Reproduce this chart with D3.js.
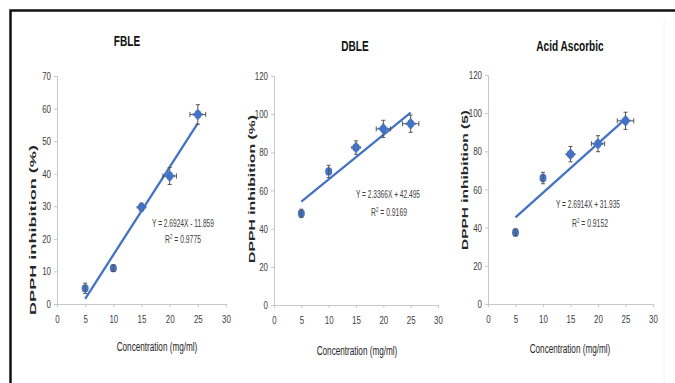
<!DOCTYPE html>
<html>
<head>
<meta charset="utf-8">
<script src="https://cdn.jsdelivr.net/npm/d3@7"></script>
<style>
  html, body { margin: 0; padding: 0; background: #fff; }
  svg { display: block; }
</style>
</head>
<body>
<svg id="chart" width="675" height="383"></svg>
<script>
// ---------------- DATA ----------------
const panelTitles = ["FBLE", "DBLE", "Acid Ascorbic"];
const yAxisTitles = ["DPPH inhibition (%)", "DPPH inhibition (%)", "DPPH inhibition (5)"];
const xAxisTitle = "Concentration (mg/ml)";
const concentrations = [5, 10, 15, 20, 25];
const xTicks = [0, 5, 10, 15, 20, 25, 30];
const fbleYTicks = [0, 10, 20, 30, 40, 50, 60, 70];
const dbleYTicks = [0, 20, 40, 60, 80, 100, 120];
const aaYTicks = [0, 20, 40, 60, 80, 100, 120];

const fbleValues = [4.8, 11, 29.7, 39.3, 58.2];
const fbleYErr = [1.6, 1.0, 1.2, 2.6, 3.0];
const fbleXErr = [0, 0, 0.4, 1.2, 1.4];

const dbleValues = [48, 70, 82.5, 92.3, 95];
const dbleYErr = [2.2, 3.2, 3.5, 4.5, 4.5];
const dbleXErr = [0, 0, 0.5, 1.3, 1.5];

const aaValues = [37.5, 66, 78.5, 84, 96];
const aaYErr = [1.8, 3.0, 4.0, 4.2, 4.5];
const aaXErr = [0, 0, 0.5, 1.2, 1.5];

// trend line end points (x = 5 and x = 25) as drawn
const fbleTrend = [1.6, 55.5];
const dbleTrend = [54.2, 100.8];
const aaTrend = [45.4, 97.0];

const equationLabels = ["Y = 2.6924X - 11.859", "Y = 2.3366X + 42.495", "Y = 2.6914X + 31.935"];
const r2Labels = ["0.9775", "0.9169", "0.9152"];

// ---------------- LAYOUT ----------------
const panels = [
  { title: panelTitles[0], yTitle: yAxisTitles[0], values: fbleValues, yErr: fbleYErr, xErr: fbleXErr,
    yTicks: fbleYTicks, trend: fbleTrend, eq: equationLabels[0], r2: r2Labels[0],
    x0: 57, x1: 226, yTop: 76, yBot: 304,
    titlePos: [127, 42], eqPos: [183, 224], r2Pos: [183, 241],
    yTitlePos: [33, 230], yTitleLen: 170, xTitlePos: [157, 348] },
  { title: panelTitles[1], yTitle: yAxisTitles[1], values: dbleValues, yErr: dbleYErr, xErr: dbleXErr,
    yTicks: dbleYTicks, trend: dbleTrend, eq: equationLabels[1], r2: r2Labels[1],
    x0: 274, x1: 438, yTop: 76, yBot: 305,
    titlePos: [355, 47], eqPos: [388, 195], r2Pos: [389, 214],
    yTitlePos: [252, 189], yTitleLen: 148, xTitlePos: [357, 352] },
  { title: panelTitles[2], yTitle: yAxisTitles[2], values: aaValues, yErr: aaYErr, xErr: aaXErr,
    yTicks: aaYTicks, trend: aaTrend, eq: equationLabels[2], r2: r2Labels[2],
    x0: 488, x1: 653, yTop: 75, yBot: 304,
    titlePos: [570, 47], eqPos: [588, 205], r2Pos: [590, 225],
    yTitlePos: [465, 180], yTitleLen: 140, xTitlePos: [570, 350] }
];

const font = "'Liberation Sans', Arial, sans-serif";
const blue = "#4472C4";
const svg = d3.select("#chart");

// condensed text helper: horizontally compressed glyphs like the reference
function condensed(g, x, y, size, sx) {
  return g.append("text")
    .attr("transform", `translate(${x},${y}) scale(${sx},1)`)
    .attr("text-anchor", "middle").attr("dominant-baseline", "middle")
    .attr("font-family", font).attr("font-size", size);
}

// frame
svg.append("rect").attr("x", 0).attr("y", 0).attr("width", 675).attr("height", 383).attr("fill", "#fff");
svg.append("path").attr("d", "M10.5,400 V10.5 H676").attr("fill", "none").attr("stroke", "#111").attr("stroke-width", 2.5);
svg.append("line").attr("x1", 664).attr("x2", 664).attr("y1", 20).attr("y2", 383).attr("stroke", "#f2f2f2").attr("stroke-width", 1);

panels.forEach(p => {
  const g = svg.append("g");
  const yMax = p.yTicks[p.yTicks.length - 1];
  const x = d3.scaleLinear().domain([0, 30]).range([p.x0, p.x1]);
  const y = d3.scaleLinear().domain([0, yMax]).range([p.yBot, p.yTop]);
  const tsx = 0.72;

  // axes
  const xAxis = g.append("g").attr("transform", `translate(0,${p.yBot})`)
    .call(d3.axisBottom(x).tickValues(xTicks).tickSize(3).tickPadding(8).tickFormat(d3.format("d")));
  const yAxis = g.append("g").attr("transform", `translate(${p.x0},0)`)
    .call(d3.axisLeft(y).tickValues(p.yTicks).tickSize(3).tickPadding(3).tickFormat(d3.format("d")));
  [xAxis, yAxis].forEach(a => {
    a.select(".domain").attr("stroke", "#c8c8c8");
    a.selectAll(".tick line").attr("stroke", "#c8c8c8");
    a.selectAll(".tick text").attr("fill", "#404040").attr("font-family", font).attr("font-size", 11);
  });
  xAxis.selectAll(".tick text").attr("transform", `scale(${tsx},1)`);
  yAxis.selectAll(".tick text").attr("transform", `scale(${tsx},1)`).attr("x", -6 / tsx);

  // title
  condensed(g, p.titlePos[0], p.titlePos[1], 14, 0.72)
    .attr("font-weight", "bold").attr("fill", "#111").text(p.title);

  // axis titles
  g.append("text").attr("transform", `translate(${p.yTitlePos[0]},${p.yTitlePos[1]}) rotate(-90)`)
    .attr("text-anchor", "middle").attr("dominant-baseline", "middle")
    .attr("font-family", font).attr("font-weight", "bold").attr("font-size", 9.5)
    .attr("fill", "#262626").attr("textLength", p.yTitleLen).attr("lengthAdjust", "spacingAndGlyphs")
    .text(p.yTitle);
  condensed(g, p.xTitlePos[0], p.xTitlePos[1], 12, 0.68)
    .attr("fill", "#262626").text(xAxisTitle);

  // trend line
  const tx = [concentrations[0], concentrations[concentrations.length - 1]];
  g.append("path")
    .datum(tx.map((v, i) => [v, p.trend[i]]))
    .attr("d", d3.line().x(d => x(d[0])).y(d => y(d[1])))
    .attr("stroke", blue).attr("stroke-width", 2.3).attr("fill", "none");

  // points
  const pts = concentrations.map((c, i) => ({ c, v: p.values[i], ey: p.yErr[i], ex: p.xErr[i] }));
  const pg = g.selectAll(".pt").data(pts).join("g");
  pg.append("ellipse")
    .attr("cx", d => x(d.c)).attr("cy", d => y(d.v)).attr("rx", 3.5).attr("ry", 4.2)
    .attr("fill", blue);
  const eb = "#555";
  pg.filter(d => d.ey > 0).append("path")
    .attr("d", d => {
      const cx = x(d.c), a = y(d.v + d.ey), b = y(d.v - d.ey);
      return `M${cx},${a}V${b}M${cx - 2},${a}H${cx + 2}M${cx - 2},${b}H${cx + 2}`;
    })
    .attr("stroke", eb).attr("stroke-width", 1).attr("fill", "none");
  pg.filter(d => d.ex > 0).append("path")
    .attr("d", d => {
      const cy = y(d.v), a = x(d.c - d.ex), b = x(d.c + d.ex);
      return `M${a},${cy}H${b}M${a},${cy - 2.5}V${cy + 2.5}M${b},${cy - 2.5}V${cy + 2.5}`;
    })
    .attr("stroke", eb).attr("stroke-width", 1).attr("fill", "none");
  pg.filter(d => d.ex > 0).append("path")
    .attr("d", d => {
      const cx = x(d.c), cy = y(d.v);
      return `M${cx},${cy - 5}V${cy + 5}M${cx - 5},${cy}H${cx + 5}`;
    })
    .attr("stroke", blue).attr("stroke-width", 2.5).attr("fill", "none");

  // equation labels
  condensed(g, p.eqPos[0], p.eqPos[1], 11, 0.6).attr("fill", "#404040").text(p.eq);
  const r = condensed(g, p.r2Pos[0], p.r2Pos[1], 11, 0.62).attr("fill", "#404040");
  r.append("tspan").text("R");
  r.append("tspan").attr("font-size", 7).attr("dy", -4).text("2");
  r.append("tspan").attr("dy", 4).text(" = " + p.r2);
});
</script>
</body>
</html>
